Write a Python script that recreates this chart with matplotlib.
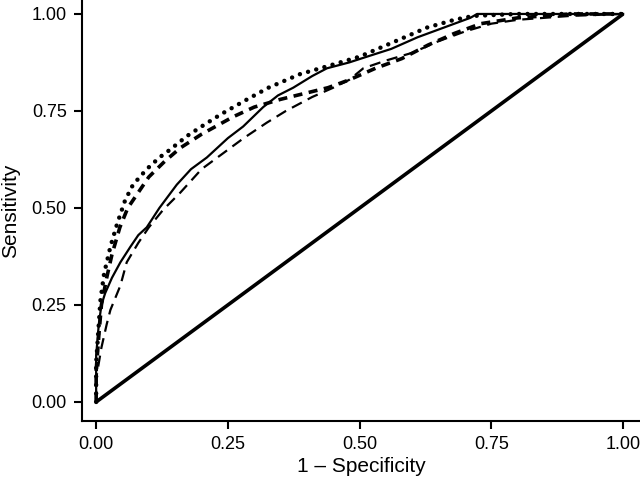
import matplotlib
matplotlib.use("Agg")
import matplotlib.pyplot as plt

plt.rcParams['font.family'] = ['Liberation Sans', 'DejaVu Sans']

# ROC curves (x = 1 - specificity, y = sensitivity)
dot_x = [0, 0.0, 0.004, 0.008, 0.015, 0.027, 0.04, 0.055, 0.07, 0.096, 0.12, 0.14, 0.172,
         0.20, 0.235, 0.28, 0.327, 0.387, 0.438, 0.50, 0.577, 0.628, 0.68, 0.716, 0.80, 1.0]
dot_y = [0, 0.10, 0.18, 0.26, 0.33, 0.40, 0.46, 0.52, 0.56, 0.60, 0.63, 0.65, 0.685,
         0.71, 0.74, 0.775, 0.81, 0.845, 0.865, 0.89, 0.935, 0.965, 0.985, 0.995, 1.0, 1.0]

dash_x = [0, 0.0, 0.005, 0.01, 0.02, 0.03, 0.045, 0.06, 0.08, 0.10, 0.13, 0.16, 0.20, 0.26,
          0.30, 0.35, 0.41, 0.44, 0.48, 0.53, 0.58, 0.63, 0.68, 0.73, 0.80, 0.90, 1.0]
dash_y = [0, 0.08, 0.17, 0.25, 0.32, 0.38, 0.45, 0.50, 0.54, 0.58, 0.62, 0.655, 0.69, 0.735,
          0.76, 0.78, 0.80, 0.81, 0.83, 0.86, 0.885, 0.92, 0.95, 0.975, 0.99, 1.0, 1.0]

solid_x = [0, 0.0, 0.005, 0.01, 0.017, 0.03, 0.046, 0.065, 0.08, 0.096, 0.12, 0.153, 0.18,
           0.21, 0.25, 0.279, 0.317, 0.345, 0.374, 0.41, 0.438, 0.48, 0.514, 0.56, 0.61,
           0.66, 0.71, 0.723, 1.0]
solid_y = [0, 0.12, 0.20, 0.25, 0.28, 0.32, 0.36, 0.40, 0.43, 0.45, 0.50, 0.56, 0.60,
           0.63, 0.68, 0.71, 0.76, 0.79, 0.81, 0.84, 0.86, 0.875, 0.89, 0.91, 0.94,
           0.965, 0.99, 1.0, 1.0]

long_x = [0, 0.0, 0.01, 0.02, 0.027, 0.046, 0.058, 0.08, 0.10, 0.127, 0.16, 0.20, 0.24,
          0.28, 0.324, 0.36, 0.41, 0.45, 0.48, 0.507, 0.55, 0.60, 0.65, 0.70, 0.75, 0.80,
          0.90, 1.0]
long_y = [0, 0.06, 0.14, 0.20, 0.237, 0.30, 0.36, 0.41, 0.45, 0.495, 0.54, 0.60, 0.64,
          0.68, 0.72, 0.75, 0.786, 0.81, 0.83, 0.86, 0.88, 0.90, 0.93, 0.955, 0.975, 0.985,
          0.995, 1.0]

ref_x = [0, 1]
ref_y = [0, 1]

ticks = [0, 0.25, 0.5, 0.75, 1.0]
tick_labels = ['0.00', '0.25', '0.50', '0.75', '1.00']

fig = plt.figure(figsize=(6.4, 4.8), dpi=100)
ax = fig.add_axes([0.128, 0.123, 0.872, 0.877])

ax.plot(ref_x, ref_y, color='black', lw=2.6, solid_capstyle='butt')
ax.plot(long_x, long_y, color='black', lw=1.6, linestyle=(0, (5, 3)))
ax.plot(solid_x, solid_y, color='black', lw=1.6)
ax.plot(dash_x, dash_y, color='black', lw=2.6, linestyle=(0, (2.5, 1.8)))
ax.plot(dot_x, dot_y, color='black', lw=3.2, linestyle=(0, (0.01, 1.9)),
        dash_capstyle='round')

ax.set_xlim(-0.027, 1.032)
ax.set_ylim(-0.049, 1.036)
ax.set_xticks(ticks)
ax.set_xticklabels(tick_labels)
ax.set_yticks(ticks)
ax.set_yticklabels(tick_labels)
ax.tick_params(direction='out', length=6, width=1.5, labelsize=13, color='black', pad=5)
for side in ['top', 'right']:
    ax.spines[side].set_visible(False)
for side in ['left', 'bottom']:
    ax.spines[side].set_linewidth(1.5)

ax.set_xlabel('1 \u2013 Specificity', fontsize=15, labelpad=3)
ax.set_ylabel('Sensitivity', fontsize=15, labelpad=8)

fig.savefig('out.png', dpi=100)
